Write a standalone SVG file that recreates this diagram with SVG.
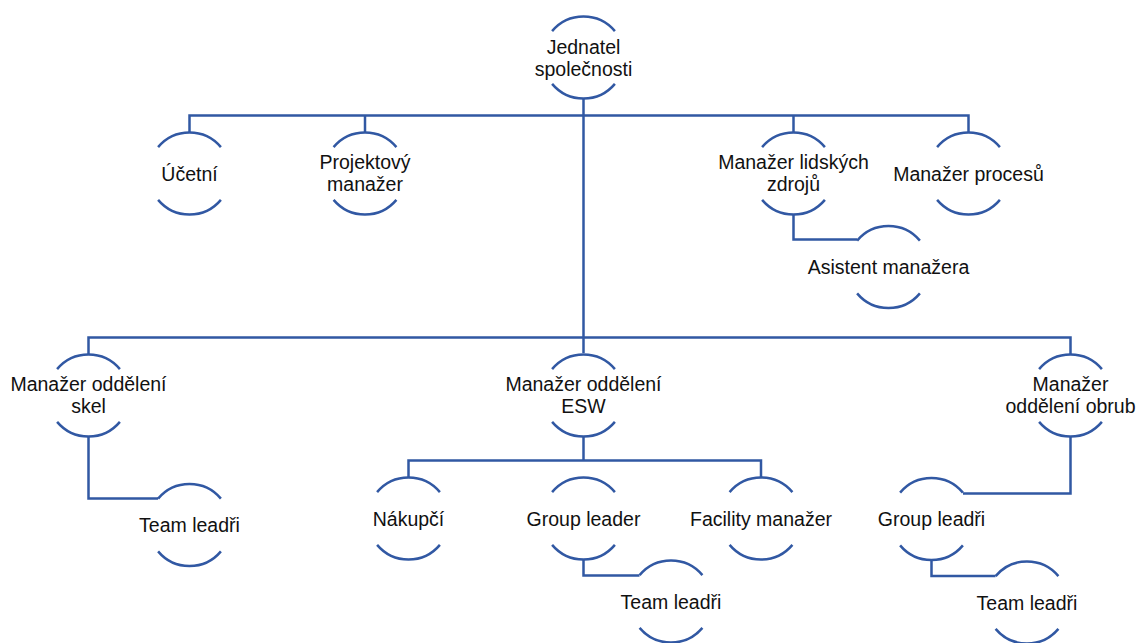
<svg xmlns="http://www.w3.org/2000/svg" xmlns:xlink="http://www.w3.org/1999/xlink" width="1138" height="643" viewBox="0 0 1138 643">
<style>
.ln{fill:none;stroke:#3158A3;stroke-width:2.5;}
.t{font-family:"Liberation Sans",Arial,sans-serif;font-size:19.5px;fill:#111;text-anchor:middle;}
</style>
<defs>
<path id="arcs" class="ln" d="M-31.4,-26.4 A41,41 0 0 1 31.4,-26.4 M-31.4,26.4 A41,41 0 0 0 31.4,26.4"/>
</defs>
<rect width="1138" height="643" fill="#fff"/>
<g id="connectors" class="ln">
<path d="M583.5,98.5 V353"/>
<path d="M189.5,132 V115.5 H968.5 V132"/>
<path d="M365,132 V115.5"/>
<path d="M793.5,132 V115.5"/>
<path d="M88.5,354 V337.5 H1070.5 V354"/>
<path d="M793.5,214.5 V239.5 H857"/>
<path d="M88.5,436.5 V498.5 H158"/>
<path d="M583.5,436.5 V460.5"/>
<path d="M408.5,477 V460.5 H761 V477"/>
<path d="M583.5,559.5 V575.5 H639.5"/>
<path d="M1070.5,436.5 V493.5 H963"/>
<path d="M931.5,560 V576 H995.5"/>
</g>
<g id="n-jednatel"><use xlink:href="#arcs" x="583.5" y="57.5"/><text class="t" x="583.5" y="53.5">Jednatel</text><text class="t" x="583.5" y="75.5">společnosti</text></g>
<g id="n-ucetni"><use xlink:href="#arcs" x="189.5" y="173.5"/><text class="t" x="189.5" y="180.5">Účetní</text></g>
<g id="n-projektovy"><use xlink:href="#arcs" x="365" y="173.5"/><text class="t" x="365" y="168.5">Projektový</text><text class="t" x="365" y="190.5">manažer</text></g>
<g id="n-lidske"><use xlink:href="#arcs" x="793.5" y="173.5"/><text class="t" x="793.5" y="168.5">Manažer lidských</text><text class="t" x="793.5" y="190.5">zdrojů</text></g>
<g id="n-procesy"><use xlink:href="#arcs" x="968.5" y="173.5"/><text class="t" x="968.5" y="180.5">Manažer procesů</text></g>
<g id="n-asistent"><use xlink:href="#arcs" x="888.5" y="267"/><text class="t" x="888.5" y="274">Asistent manažera</text></g>
<g id="n-skel"><use xlink:href="#arcs" x="88.5" y="395.5"/><text class="t" x="88.5" y="390.5">Manažer oddělení</text><text class="t" x="88.5" y="412.5">skel</text></g>
<g id="n-esw"><use xlink:href="#arcs" x="583.5" y="395.5"/><text class="t" x="583.5" y="390.5">Manažer oddělení</text><text class="t" x="583.5" y="412.5">ESW</text></g>
<g id="n-obrub"><use xlink:href="#arcs" x="1070.5" y="395.5"/><text class="t" x="1070.5" y="390.5">Manažer</text><text class="t" x="1070.5" y="412.5">oddělení obrub</text></g>
<g id="n-team-skel"><use xlink:href="#arcs" x="189.5" y="525"/><text class="t" x="189.5" y="532">Team leadři</text></g>
<g id="n-nakupci"><use xlink:href="#arcs" x="408.5" y="518.5"/><text class="t" x="408.5" y="525.5">Nákupčí</text></g>
<g id="n-group-leader"><use xlink:href="#arcs" x="583.5" y="518.5"/><text class="t" x="583.5" y="525.5">Group leader</text></g>
<g id="n-facility"><use xlink:href="#arcs" x="761" y="518.5"/><text class="t" x="761" y="525.5">Facility manažer</text></g>
<g id="n-team-esw"><use xlink:href="#arcs" x="671" y="601.5"/><text class="t" x="671" y="608.5">Team leadři</text></g>
<g id="n-group-leadri"><use xlink:href="#arcs" x="931.5" y="519"/><text class="t" x="931.5" y="526">Group leadři</text></g>
<g id="n-team-obrub"><use xlink:href="#arcs" x="1027" y="602.5"/><text class="t" x="1027" y="609.5">Team leadři</text></g>
</svg>
